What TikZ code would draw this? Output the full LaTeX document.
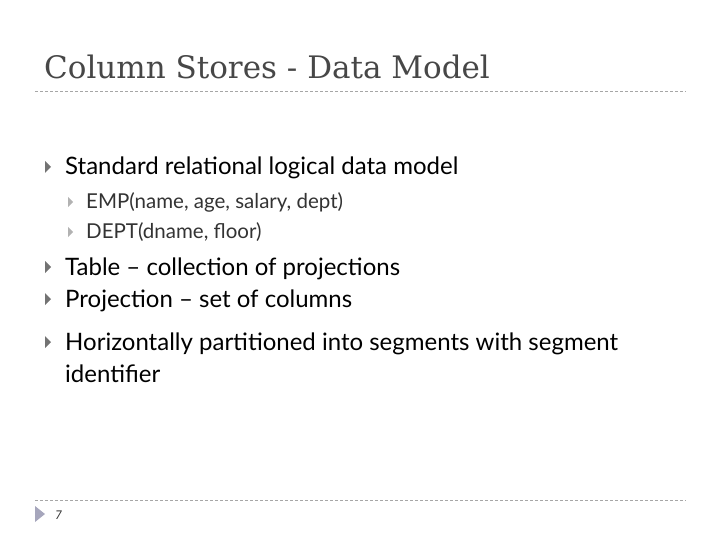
\documentclass[tikz,border=0pt]{standalone}
\usepackage{fontspec}
\setmainfont{Lato}
\newfontfamily\titlefont{DejaVu Serif}
\begin{document}
\begin{tikzpicture}[x=1pt,y=-1pt,
  main/.style={anchor=base west,inner sep=0,font=\fontsize{24}{28}\selectfont,text=black},
  sub/.style={anchor=base west,inner sep=0,font=\fontsize{20.5}{24}\selectfont,text=black!80},
  tri/.style={fill=black!55,draw=none},
  rule/.style={draw=black!35,dashed,dash pattern=on 3pt off 2pt,line width=0.6pt}]
\useasboundingbox (0,0) rectangle (720,540);
\node[anchor=base west,inner sep=0,font=\titlefont\fontsize{31}{36}\selectfont,text=black!72] (title) at (44,79) {Column Stores - Data Model};
\coordinate (r1a) at (35,91); \coordinate (r1b) at (686,91);
\draw[rule] (r1a) -- (r1b);
\coordinate (r2a) at (35,500); \coordinate (r2b) at (686,500);
\draw[rule] (r2a) -- (r2b);
\foreach \y in {167,267,299,342} \fill[tri] (45,\y-6) -- (51,\y) -- (45,\y+6) -- cycle;
\foreach \y in {202,232} \fill[tri,black!30] (68,\y-5) -- (73,\y) -- (68,\y+5) -- cycle;
\node[main] (a) at (65,175) {Standard relational logical data model};
\node[sub] (b) at (86,209) {EMP(name, age, salary, dept)};
\node[sub] (c) at (86,239) {DEPT(dname, floor)};
\node[main] (d) at (65,275) {Table -- collection of projections};
\node[main] (e) at (65,307) {Projection -- set of columns};
\node[main] (f) at (65,350) {Horizontally partitioned into segments with segment};
\node[main] (g) at (65,382) {identifier};
\fill[blue!25!black!35] (35,506) -- (45,514) -- (35,522) -- cycle;
\node[anchor=base west,inner sep=0,font=\itshape\fontsize{12}{14}\selectfont,text=black!80] (num) at (55,519) {7};
\end{tikzpicture}
\end{document}
